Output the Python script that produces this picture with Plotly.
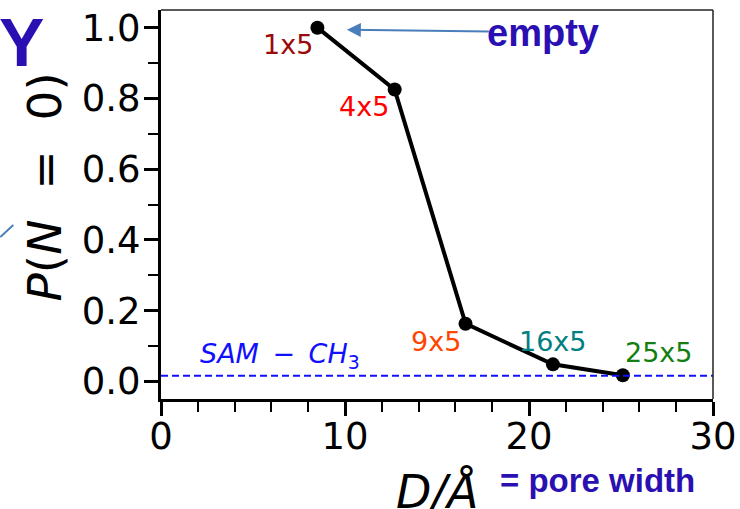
import plotly.graph_objects as go

# Pore width D (Å) and probability that the pore is empty, P(N = 0)
pore_width = [8.5, 12.7, 16.55, 21.3, 25.1]
p_empty = [1.0, 0.825, 0.163, 0.048, 0.017]
pore_labels = ["1x5", "4x5", "9x5", "16x5", "25x5"]
label_colors = ["#9b0a0a", "#ff0000", "#ff4500", "#008080", "#137f13"]
sam_ch3_level = 0.016

x_ticks = [0, 10, 20, 30]
y_ticks = [0.0, 0.2, 0.4, 0.6, 0.8, 1.0]

FONT = "DejaVu Sans"
NAVY = "#2a10b2"
ARROW = "#4a7ebb"

fig = go.Figure()

fig.add_trace(go.Scatter(
    x=pore_width, y=p_empty, mode="lines+markers",
    line=dict(color="black", width=4),
    marker=dict(color="black", size=14),
    showlegend=False, cliponaxis=False,
))

# SAM-CH3 reference level
fig.add_shape(type="line", xref="paper", x0=0, x1=1, yref="y",
              y0=sam_ch3_level, y1=sam_ch3_level,
              line=dict(color="#1010ff", width=2, dash="7px,4px"))

# thin top / right frame
fig.add_shape(type="line", xref="paper", yref="paper", x0=0, x1=1, y0=1, y1=1,
              line=dict(color="#222", width=1.5))
fig.add_shape(type="line", xref="paper", yref="paper", x0=1, x1=1, y0=0, y1=1,
              line=dict(color="#222", width=1.5))

# label placement around each point: (xanchor, xshift, yshift)
placement = [("right", -2, -17), ("right", -4, -17), ("right", -3, -18),
             ("center", 0, 23), ("left", 0, 23)]
for xv, yv, txt, col, (xa, xs, ys) in zip(pore_width, p_empty, pore_labels,
                                          label_colors, placement):
    fig.add_annotation(x=xv, y=yv, text=txt, showarrow=False,
                       xanchor=xa, yanchor="middle", xshift=xs, yshift=ys,
                       font=dict(family=FONT, size=27, color=col))

fig.add_annotation(x=2.0, y=sam_ch3_level,
                   text="<i>SAM</i>\u2002−\u2002<i>CH</i><sub>3</sub>",
                   showarrow=False, xanchor="left", yanchor="bottom", yshift=1,
                   font=dict(family=FONT, size=27, color="#1010ff"))

# axis titles
fig.add_annotation(xref="paper", yref="paper", x=-0.211, y=0.545,
                   text="<i>P</i>(<i>N</i>  =  0)", textangle=-90, showarrow=False,
                   xanchor="center", yanchor="middle",
                   font=dict(family=FONT, size=47, color="black"))
fig.add_annotation(xref="paper", yref="paper", x=0.50, y=-0.24,
                   text="<i>D/Å</i>", showarrow=False,
                   xanchor="center", yanchor="middle",
                   font=dict(family=FONT, size=46, color="black"))

# callouts
fig.add_annotation(xref="paper", yref="paper", x=0.79, y=-0.21,
                   text="<b>= pore width</b>", showarrow=False,
                   xanchor="center", yanchor="middle",
                   font=dict(family="Liberation Sans", size=33, color=NAVY))
fig.add_annotation(x=17.6, y=0.985, text="<b>empty</b>", showarrow=False,
                   xanchor="left", yanchor="middle",
                   font=dict(family="Liberation Sans", size=38, color=NAVY))
fig.add_annotation(x=10.1, y=0.994, ax=17.9, ay=0.989, axref="x", ayref="y",
                   text="", showarrow=True, arrowhead=2, arrowsize=1.4,
                   arrowwidth=2, arrowcolor=ARROW)
fig.add_annotation(xref="paper", yref="paper", x=-0.252, y=0.917,
                   text="<b>Y</b>", showarrow=False,
                   xanchor="center", yanchor="middle",
                   font=dict(family="Liberation Sans", size=68, color=NAVY))
fig.add_shape(type="line", xref="paper", yref="paper",
              x0=-0.2911, y0=0.4165, x1=-0.2676, y1=0.4473,
              line=dict(color=ARROW, width=2))

fig.update_xaxes(
    range=[0, 30], tickvals=x_ticks, ticks="outside", ticklen=14, tickwidth=3,
    tickcolor="black", showline=True, linewidth=3, linecolor="black",
    showgrid=False, zeroline=False, automargin=False, ticklabelstandoff=-11,
    minor=dict(dtick=2, tick0=0, ticks="outside", ticklen=10, tickwidth=2,
               tickcolor="black", showgrid=False),
    tickfont=dict(family=FONT, size=37, color="black"),
)
fig.update_yaxes(
    range=[-0.05, 1.05], tickvals=y_ticks, tickformat=".1f", ticks="outside",
    ticklen=14, tickwidth=3, tickcolor="black", showline=True, linewidth=3,
    linecolor="black", showgrid=False, zeroline=False, automargin=False,
    ticklabelstandoff=-4,
    minor=dict(dtick=0.1, tick0=0, ticks="outside", ticklen=10, tickwidth=2,
               tickcolor="black", showgrid=False),
    tickfont=dict(family=FONT, size=37, color="black"),
)

fig.update_layout(
    width=740, height=509, autosize=False,
    margin=dict(l=161, r=27, t=10, b=110),
    paper_bgcolor="white", plot_bgcolor="white",
    showlegend=False,
)

fig.write_html("out.html")
